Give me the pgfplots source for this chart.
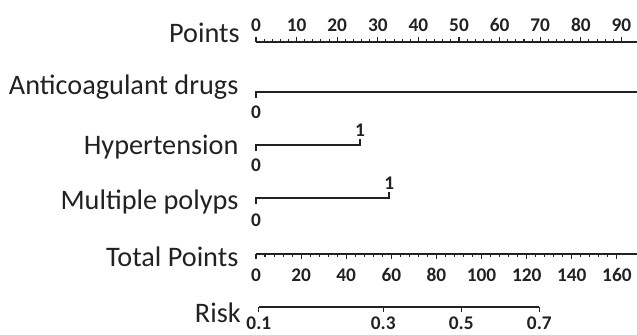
\documentclass[border=0pt]{standalone}
\usepackage{fontspec}
\setmainfont{Carlito}[Numbers=Lining]
\usepackage{pgfplots}
\pgfplotsset{compat=1.18}
\definecolor{ink}{HTML}{222222}
\pgfplotsset{
  nomo/.style={
    scale only axis, clip=false,
    axis y line=none,
    x axis line style={-, line width=1.3pt, color=ink},
    every outer x axis line/.append style={-},
    every inner x axis line/.append style={-},
    tick align=outside,
    major tick length=3.75pt, minor tick length=2.25pt,
    every tick/.style={line width=0.8pt, color=ink},
    /pgf/number format/assume math mode=true,
    xticklabel style={font=\bfseries\fontsize{14.5}{15}\selectfont, text=ink, anchor=base, inner sep=0pt},
    ymin=0, ymax=1,
  },
  rowline/.style={line width=1.3pt, color=ink, line cap=rect},
}
\begin{document}
\begin{tikzpicture}
\path[use as bounding box] (0,0) rectangle (477.75pt,-251.25pt);
% row labels
\begin{scope}[every node/.style={anchor=base east, inner sep=0pt, text=ink, font=\fontsize{21.2}{23}\selectfont}]
\node at (180pt,-32.25pt) {Points};
\node at (179pt,-71.25pt) {Anticoagulant drugs};
\node at (179pt,-116.25pt) {Hypertension};
\node at (179pt,-157.5pt) {Multiple polyps};
\node at (179pt,-200.25pt) {Total Points};
\node at (180.75pt,-242pt) {Risk};
\end{scope}
% Points axis (also carries the binary predictors; y in pixel rows)
\begin{axis}[nomo,
  at={(192pt,-31.5pt)}, anchor=north west,
  width=289.3pt, height=219.75pt,
  xmin=0, xmax=95, ymin=-335, ymax=-42,
  axis x line*=top,
  xtick={0,10,...,90}, minor x tick num=4,
  xticklabel style={yshift=3.75pt},
]
\addplot[rowline] coordinates {(0,-97) (0,-92) (100,-92) (100,-87)};
\addplot[rowline] coordinates {(0,-150) (0,-145) (25.6,-145) (25.6,-140)};
\addplot[rowline] coordinates {(0,-203) (0,-198) (32.8,-198) (32.8,-193)};
\begin{scope}[every node/.style={anchor=base, inner sep=0pt, text=ink, font=\bfseries\fontsize{14.5}{15}\selectfont}]
\node at (axis cs:0,-119) {0};
\node at (axis cs:0,-172) {0};
\node at (axis cs:25.6,-137) {1};
\node at (axis cs:0,-227) {0};
\node at (axis cs:32.8,-190) {1};
\end{scope}
\end{axis}
% Total points axis
\begin{axis}[nomo,
  at={(192pt,-190.5pt)}, anchor=south west,
  width=291pt, height=10pt,
  xmin=0, xmax=172,
  axis x line*=bottom,
  xtick={0,20,...,160}, minor x tick num=4,
  xticklabel style={yshift=-16.5pt},
]
\end{axis}
% Risk axis (positions in total points: 91 + 40.84 logit(p))
\begin{axis}[nomo,
  at={(194.13pt,-230.25pt)}, anchor=south west,
  width=210.4pt, height=10pt,
  xmin=1.26, xmax=125.6,
  axis x line*=bottom,
  xtick={1.26,56.40,91,125.6},
  xticklabels={0.1,0.3,0.5,0.7},
  xticklabel style={yshift=-13.5pt},
]
\end{axis}
\end{tikzpicture}
\end{document}
